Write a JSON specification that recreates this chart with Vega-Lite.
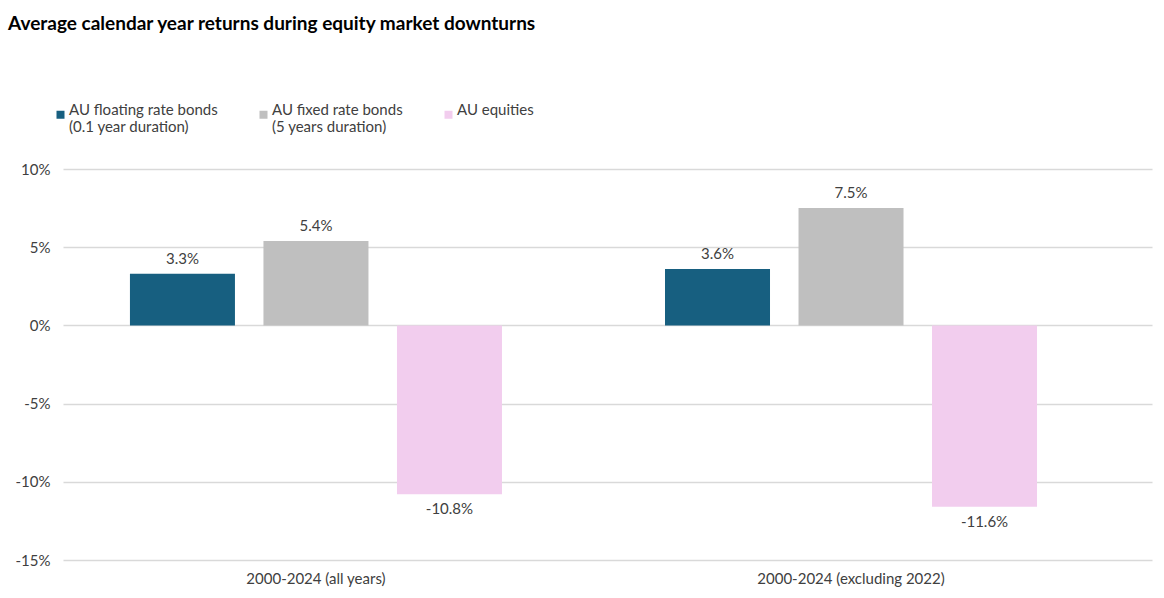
{
  "$schema": "https://vega.github.io/schema/vega-lite/v6.json",
  "width": 1089,
  "height": 391,
  "autosize": {"type": "none"},
  "padding": {"left": 63, "top": 169, "right": 12, "bottom": 38},
  "background": "white",
  "title": {
    "text": "Average calendar year returns during equity market downturns",
    "anchor": "start",
    "frame": "group",
    "dx": -55,
    "offset": 73,
    "font": "Lato",
    "fontSize": 19,
    "fontWeight": "bold",
    "color": "#000000"
  },
  "config": {
    "view": {"stroke": null},
    "font": "Lato"
  },
  "data": {
    "values": [
      {"group": "2000-2024 (all years)", "series": "AU floating rate bonds|(0.1 year duration)", "value": 3.3},
      {"group": "2000-2024 (all years)", "series": "AU fixed rate bonds|(5 years duration)", "value": 5.4},
      {"group": "2000-2024 (all years)", "series": "AU equities| ", "value": -10.8},
      {"group": "2000-2024 (excluding 2022)", "series": "AU floating rate bonds|(0.1 year duration)", "value": 3.6},
      {"group": "2000-2024 (excluding 2022)", "series": "AU fixed rate bonds|(5 years duration)", "value": 7.5},
      {"group": "2000-2024 (excluding 2022)", "series": "AU equities| ", "value": -11.6}
    ]
  },
  "transform": [
    {"calculate": "replace(format(datum.value, '.1f'), '\u2212', '-') + '%'", "as": "label"}
  ],
  "encoding": {
    "x": {
      "field": "group",
      "type": "nominal",
      "sort": null,
      "scale": {"paddingInner": 0.3047, "paddingOuter": 0.17, "align": 0.368},
      "axis": {
        "title": null,
        "labelAngle": 0,
        "ticks": false,
        "domain": false,
        "labelPadding": 11,
        "labelFontSize": 15,
        "labelLimit": 400,
        "labelColor": "#404040",
        "labelFont": "Lato"
      }
    },
    "xOffset": {
      "field": "series",
      "type": "nominal",
      "sort": null,
      "scale": {"paddingInner": 0.2135, "paddingOuter": 0}
    },
    "y": {
      "field": "value",
      "type": "quantitative",
      "scale": {"domain": [-15, 10], "nice": false, "zero": false},
      "axis": {
        "title": null,
        "values": [-15, -10, -5, 0, 5, 10],
        "labelExpr": "datum.value + '%'",
        "ticks": false,
        "domain": false,
        "gridColor": "#d9d9d9",
        "gridWidth": 1.5,
        "labelPadding": 13,
        "labelFontSize": 15,
        "labelColor": "#404040",
        "labelFont": "Lato"
      }
    }
  },
  "layer": [
    {
      "mark": {"type": "bar"},
      "encoding": {
        "color": {
          "field": "series",
          "type": "nominal",
          "sort": null,
          "scale": {
            "domain": ["AU floating rate bonds|(0.1 year duration)", "AU fixed rate bonds|(5 years duration)", "AU equities| "],
            "range": ["#175f80", "#bfbfbf", "#f2cdee"]
          },
          "legend": {
            "title": null,
            "orient": "none",
            "legendX": -10,
            "legendY": -62,
            "direction": "horizontal",
            "columns": 3,
            "columnPadding": 38,
            "symbolType": "square",
            "symbolSize": 64,
            "symbolStrokeWidth": 0,
            "symbolOffset": 0,
            "labelOffset": 1,
            "labelFontSize": 15,
            "labelColor": "#404040",
            "labelFont": "Lato",
            "labelLimit": 300,
            "labelBaseline": "alphabetic",
            "labelExpr": "split(datum.label, '|')"
          }
        }
      }
    },
    {
      "transform": [{"filter": "datum.value >= 0"}],
      "mark": {"type": "text", "baseline": "bottom", "dy": -7, "fontSize": 15, "color": "#404040", "font": "Lato"},
      "encoding": {
        "text": {"field": "label", "type": "nominal"}
      }
    },
    {
      "transform": [{"filter": "datum.value < 0"}],
      "mark": {"type": "text", "baseline": "top", "dy": 8, "fontSize": 15, "color": "#404040", "font": "Lato"},
      "encoding": {
        "text": {"field": "label", "type": "nominal"}
      }
    }
  ]
}
